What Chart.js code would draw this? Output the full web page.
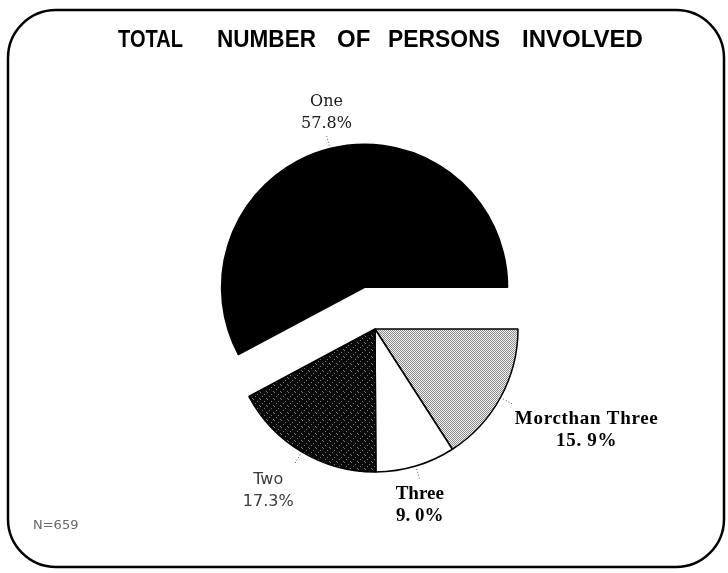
<!DOCTYPE html>
<html>
<head>
<meta charset="utf-8">
<script src="https://cdn.jsdelivr.net/npm/chart.js@4"></script>
<style>
  html, body { margin: 0; padding: 0; background: #fff; }
  canvas { display: block; }
</style>
</head>
<body>
<canvas id="c" width="728" height="573"></canvas>
<script>
// ---- data ----
const categories = ['Morcthan Three', 'Three', 'Two', 'One'];
const shares = [15.9, 9.0, 17.3, 57.8];
const pctLabels = ['15. 9%', '9. 0%', '17.3%', '57.8%'];
const titleWords = ['TOTAL', 'NUMBER', 'OF', 'PERSONS', 'INVOLVED'];
const footnote = 'N=659';
const explodedCategory = 'One';

// ---- styles ----
function makePattern(size, base, dots, dotColor) {
  const c = document.createElement('canvas');
  c.width = size; c.height = size;
  const g = c.getContext('2d');
  g.fillStyle = base; g.fillRect(0, 0, size, size);
  g.fillStyle = dotColor;
  dots.forEach(([x, y]) => g.fillRect(x, y, 1, 1));
  return g.createPattern(c, 'repeat');
}
const cvs = document.getElementById('c');
const lightGray = makePattern(2, '#f4f4f4', [[0, 0], [1, 1]], '#8a8a8a');
const darkGray = makePattern(7, '#0a0a0a', [[1, 0], [5, 2], [3, 4], [0, 6]], '#7a7a7a');
const sliceFills = [lightGray, '#ffffff', darkGray, '#000000'];
const labelFonts = [
  {font: 'bold 19px "Liberation Serif"', color: '#000', spacing: '0.7px'},
  {font: 'bold 19px "Liberation Serif"', color: '#000', spacing: '0px'},
  {font: '16px "DejaVu Sans"', color: '#3a3a3a', spacing: '0px'},
  {font: '16px "DejaVu Serif"', color: '#1a1a1a', spacing: '0px'}
];
const titleWordBoxes = [[118, 65], [217, 99], [337, 35], [388, 112], [522, 121]];
const EXPLODE = 43;

const explodePlugin = {
  id: 'explode',
  afterDatasetsUpdate(chart) {
    const meta = chart.getDatasetMeta(0);
    const idx = categories.indexOf(explodedCategory);
    const arc = meta.data[idx];
    if (!arc) return;
    const mid = (arc.startAngle + arc.endAngle) / 2;
    arc.x += Math.cos(mid) * EXPLODE;
    arc.y += Math.sin(mid) * EXPLODE;
  }
};

const framePlugin = {
  id: 'frame',
  afterDraw(chart) {
    const ctx = chart.ctx;
    ctx.save();
    ctx.strokeStyle = '#000';
    ctx.lineWidth = 2.5;
    ctx.beginPath();
    ctx.roundRect(8, 10, 716, 557, 48);
    ctx.stroke();
    // title
    ctx.fillStyle = '#000';
    ctx.font = 'bold 24px "Liberation Sans", Arial, sans-serif';
    ctx.textBaseline = 'alphabetic';
    ctx.textAlign = 'left';
    titleWords.forEach((w, i) => {
      const [x, wd] = titleWordBoxes[i];
      ctx.fillText(w, x, 47, wd);
    });
    // footnote
    ctx.font = '13px "DejaVu Sans"';
    ctx.fillStyle = '#666';
    ctx.fillText(footnote, 33, 529);
    ctx.restore();
  }
};

const labelPlugin = {
  id: 'sliceLabels',
  afterDatasetsDraw(chart) {
    const ctx = chart.ctx;
    const meta = chart.getDatasetMeta(0);
    meta.data.forEach((arc, i) => {
      const mid = (arc.startAngle + arc.endAngle) / 2;
      const R = arc.outerRadius;
      const c = Math.cos(mid), s = Math.sin(mid);
      const sx = arc.x + c * (R + 3), sy = arc.y + s * (R + 3);
      const ex = arc.x + c * (R + 14), ey = arc.y + s * (R + 14);
      ctx.save();
      ctx.strokeStyle = '#555';
      ctx.lineWidth = 1;
      ctx.setLineDash([1, 2]);
      ctx.beginPath();
      ctx.moveTo(sx, sy); ctx.lineTo(ex, ey);
      ctx.stroke();
      ctx.setLineDash([]);
      const lines = [categories[i], pctLabels[i]];
      ctx.font = labelFonts[i].font;
      ctx.letterSpacing = labelFonts[i].spacing;
      ctx.fillStyle = labelFonts[i].color;
      ctx.textBaseline = 'alphabetic';
      ctx.textAlign = 'center';
      const widths = lines.map(t => ctx.measureText(t).width);
      const bw = Math.max(...widths);
      let cx;
      if (c > 0.5) cx = ex + 2 + bw / 2;
      else if (c < -0.5) cx = ex - 1 - bw / 2;
      else cx = ex;
      const lh = 22;
      const b0 = s > 0 ? ey + 20 : ey - 7 - lh;
      lines.forEach((t, k) => ctx.fillText(t, cx, b0 + k * lh));
      ctx.restore();
    });
  }
};

new Chart(cvs, {
  type: 'pie',
  data: {
    labels: categories,
    datasets: [{
      data: shares,
      backgroundColor: sliceFills,
      borderColor: '#000',
      borderWidth: 1.5
    }]
  },
  options: {
    responsive: false,
    animation: false,
    rotation: 90,
    radius: 143,
    layout: { padding: { left: 22, right: 0, top: 85, bottom: 0 } },
    plugins: {
      legend: { display: false },
      tooltip: { enabled: false },
      title: { display: false }
    },
    events: []
  },
  plugins: [explodePlugin, labelPlugin, framePlugin]
});
</script>
</body>
</html>
